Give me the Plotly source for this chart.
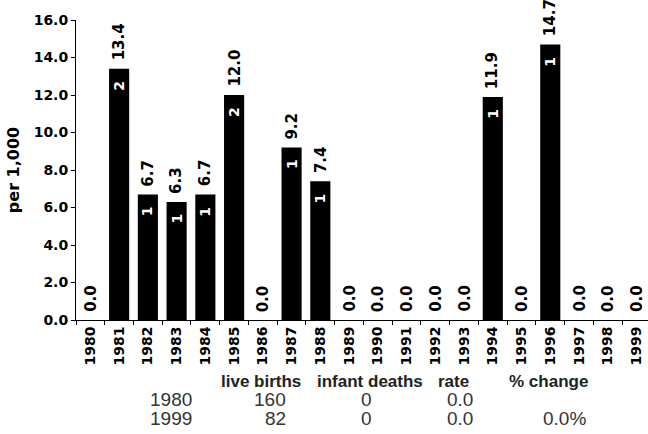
import plotly.graph_objects as go

years = [str(y) for y in range(1980, 2000)]
rates = [0.0, 13.4, 6.7, 6.3, 6.7, 12.0, 0.0, 9.2, 7.4, 0.0,
         0.0, 0.0, 0.0, 0.0, 11.9, 0.0, 14.7, 0.0, 0.0, 0.0]
deaths = [0, 2, 1, 1, 1, 2, 0, 1, 1, 0, 0, 0, 0, 0, 1, 0, 1, 0, 0, 0]
yticks = [0, 2, 4, 6, 8, 10, 12, 14, 16]

table_header = ["live births", "infant deaths", "rate", "% change"]
table_rows = [
    ["1980", "160", "0", "0.0", ""],
    ["1999", "82", "0", "0.0", "0.0%"],
]

BOLD = "DejaVu Sans"
W, H = 648, 434
L, R, T, B = 76, 0, 19.5, 114
PW, PH = W - L - R, H - T - B

fig = go.Figure()
fig.add_trace(go.Bar(
    x=years, y=rates, marker=dict(color="black", line=dict(width=0)),
    width=0.7, hoverinfo="skip",
))

ann = []
for i, v in enumerate(rates):
    ann.append(dict(x=i, y=v, xref="x", yref="y", text=f"{v:.1f}",
                    textangle=-90, showarrow=False, yanchor="bottom",
                    xanchor="center", yshift=6,
                    font=dict(family=BOLD, size=15, color="black", weight="bold")))
for i, (v, d) in enumerate(zip(rates, deaths)):
    if d > 0:
        ann.append(dict(x=i, y=v, xref="x", yref="y", text=str(d),
                        textangle=-90, showarrow=False, yanchor="top",
                        xanchor="center", yshift=-10,
                        font=dict(family=BOLD, size=14, color="white", weight="bold")))

def px(X):
    return (X - L) / PW

def py(Y):
    return (T + PH - Y) / PH

hdr_x = [260.5, 370, 453, 548]
for t, xx in zip(table_header, hdr_x):
    ann.append(dict(x=px(xx), y=py(381.5), xref="paper", yref="paper", text=t,
                    showarrow=False, xanchor="center", yanchor="middle",
                    font=dict(family="Liberation Sans", size=17, color="#222", weight="bold")))
col_right = [194, 288, 374, 475, 588]
for row, yy in zip(table_rows, [400, 419]):
    for t, xx in zip(row, col_right):
        if t:
            ann.append(dict(x=px(xx), y=py(yy), xref="paper", yref="paper", text=t,
                            showarrow=False, xanchor="right", yanchor="middle",
                            font=dict(family="Liberation Sans", size=19, color="#333")))

fig.update_layout(
    width=W, height=H,
    margin=dict(l=L, r=R, t=T, b=B, pad=0),
    paper_bgcolor="white", plot_bgcolor="white",
    showlegend=False, bargap=0.3,
    annotations=ann,
    xaxis=dict(type="category", range=[-0.5, 19.4], showline=True, linecolor="black",
               linewidth=1, ticks="outside", ticklen=4, tickcolor="black",
               tickson="boundaries", tickangle=-90, showgrid=False, zeroline=False,
               tickfont=dict(family=BOLD, size=14, color="black", weight="bold")),
    yaxis=dict(range=[0, 16], tickvals=yticks, tickformat=".1f", showline=True,
               linecolor="black", linewidth=1, ticks="outside", ticklen=4,
               tickcolor="black", showgrid=False, zeroline=False,
               tickfont=dict(family=BOLD, size=14, color="black", weight="bold"),
               title=dict(text="per 1,000", standoff=10,
                          font=dict(family=BOLD, size=16, color="black", weight="bold"))),
)

fig.write_html("out.html", config={"displayModeBar": False},
               post_script="document.body.style.margin='0';")
